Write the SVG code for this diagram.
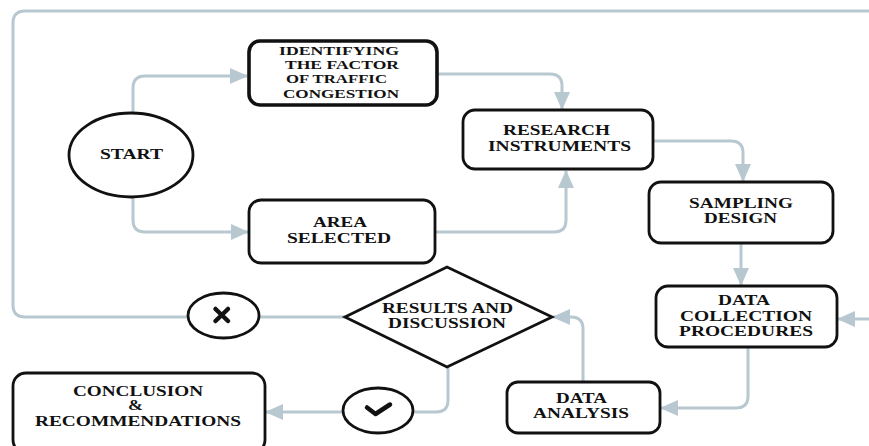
<svg xmlns="http://www.w3.org/2000/svg" width="869" height="446" viewBox="0 0 869 446">
<defs>
<style>
.box{fill:#fff;stroke:#111;stroke-width:2.8}
.thick{stroke-width:3.6}
.c{fill:none;stroke:#b8c8d0;stroke-width:3}
.t{font-family:"Liberation Serif","Times New Roman",serif;font-weight:bold;font-size:14px;text-anchor:middle;fill:#111}
.s{font-size:12.5px}
.ico{fill:none;stroke:#111;stroke-width:4.5;stroke-linecap:round;stroke-linejoin:round}
</style>
<marker id="ah" viewBox="0 0 18 16" refX="17" refY="8" markerWidth="18" markerHeight="16" markerUnits="userSpaceOnUse" orient="auto">
<path d="M0,0 L18,8 L0,16 Z" fill="#b8c8d0"/>
</marker>
</defs>
<rect width="869" height="446" fill="#fff"/>
<g id="connectors">
<path class="c" d="M188,317 H25 Q13,317 13,305 V23 Q13,11 25,11 H869"/>
<path class="c" d="M869,319 H838" marker-end="url(#ah)"/>
<path class="c" d="M133,113 V88 Q133,76 145,76 H247" marker-end="url(#ah)"/>
<path class="c" d="M133,197 V220 Q133,232 145,232 H248" marker-end="url(#ah)"/>
<path class="c" d="M437,74 H550 Q562,74 562,86 V109" marker-end="url(#ah)"/>
<path class="c" d="M435,232 H554 Q566,232 566,220 V171" marker-end="url(#ah)"/>
<path class="c" d="M653,141 H731 Q743,141 743,153 V181" marker-end="url(#ah)"/>
<path class="c" d="M741,243 V285" marker-end="url(#ah)"/>
<path class="c" d="M748,347 V396 Q748,408 736,408 H661" marker-end="url(#ah)"/>
<path class="c" d="M583,382 V329 Q583,317 571,317 H553" marker-end="url(#ah)"/>
<path class="c" d="M448,367 V400 Q448,412 436,412 H413"/>
<path class="c" d="M343,412 H266" marker-end="url(#ah)"/>
<path class="c" d="M345,317 H259"/>
</g>
<g id="start">
<ellipse class="box" cx="131" cy="155" rx="62" ry="42"/>
<text class="t" x="131.5" y="159" font-size="15" textLength="63" lengthAdjust="spacingAndGlyphs">START</text>
</g>
<g id="identifying">
<rect class="box thick" x="249" y="41" width="188" height="64" rx="11"/>
<text class="t s" x="339" y="55" textLength="120" lengthAdjust="spacingAndGlyphs">IDENTIFYING</text>
<text class="t s" x="342" y="69" textLength="114" lengthAdjust="spacingAndGlyphs">THE FACTOR</text>
<text class="t s" x="336.5" y="83" textLength="101" lengthAdjust="spacingAndGlyphs">OF TRAFFIC</text>
<text class="t s" x="341" y="98" textLength="116" lengthAdjust="spacingAndGlyphs">CONGESTION</text>
</g>
<g id="area">
<rect class="box" x="249" y="200" width="186" height="63" rx="12"/>
<text class="t" x="340" y="227" textLength="54" lengthAdjust="spacingAndGlyphs">AREA</text>
<text class="t" x="339" y="243" textLength="104" lengthAdjust="spacingAndGlyphs">SELECTED</text>
</g>
<g id="research">
<rect class="box" x="463" y="110" width="190" height="59" rx="12"/>
<text class="t" x="556.5" y="135" textLength="107" lengthAdjust="spacingAndGlyphs">RESEARCH</text>
<text class="t" x="559.5" y="151" textLength="143" lengthAdjust="spacingAndGlyphs">INSTRUMENTS</text>
</g>
<g id="sampling">
<rect class="box" x="649" y="182" width="184" height="61" rx="12"/>
<text class="t" x="741" y="208" textLength="104" lengthAdjust="spacingAndGlyphs">SAMPLING</text>
<text class="t" x="740.5" y="223" textLength="73" lengthAdjust="spacingAndGlyphs">DESIGN</text>
</g>
<g id="data-collection">
<rect class="box" x="656" y="286" width="181" height="61" rx="12"/>
<text class="t" x="744" y="305" textLength="52" lengthAdjust="spacingAndGlyphs">DATA</text>
<text class="t" x="746" y="321" textLength="132" lengthAdjust="spacingAndGlyphs">COLLECTION</text>
<text class="t" x="746" y="336" textLength="134" lengthAdjust="spacingAndGlyphs">PROCEDURES</text>
</g>
<g id="data-analysis">
<rect class="box" x="507" y="382" width="153" height="51" rx="11"/>
<text class="t" x="581.5" y="403" textLength="51" lengthAdjust="spacingAndGlyphs">DATA</text>
<text class="t" x="581" y="418" textLength="96" lengthAdjust="spacingAndGlyphs">ANALYSIS</text>
</g>
<g id="results">
<polygon class="box" points="345,317 447,267 552,317 447,367"/>
<text class="t" x="447.5" y="313" textLength="131" lengthAdjust="spacingAndGlyphs">RESULTS AND</text>
<text class="t" x="447" y="328" textLength="118" lengthAdjust="spacingAndGlyphs">DISCUSSION</text>
</g>
<g id="no">
<ellipse class="box" cx="223.5" cy="315.5" rx="35.5" ry="22.5"/>
<path class="ico" d="M215.5,309 L228,321 M228,309 L215.5,321"/>
</g>
<g id="yes">
<ellipse class="box" cx="378" cy="410.5" rx="35" ry="22.5"/>
<path class="ico" d="M367,407.5 L375.5,414 L390,404.5"/>
</g>
<g id="conclusion">
<rect class="box" x="13" y="373" width="252" height="80" rx="13"/>
<text class="t" x="138" y="396" textLength="130" lengthAdjust="spacingAndGlyphs">CONCLUSION</text>
<text class="t" x="135.5" y="410" textLength="15" lengthAdjust="spacingAndGlyphs">&amp;</text>
<text class="t" x="138" y="426" textLength="206" lengthAdjust="spacingAndGlyphs">RECOMMENDATIONS</text>
</g>
</svg>
